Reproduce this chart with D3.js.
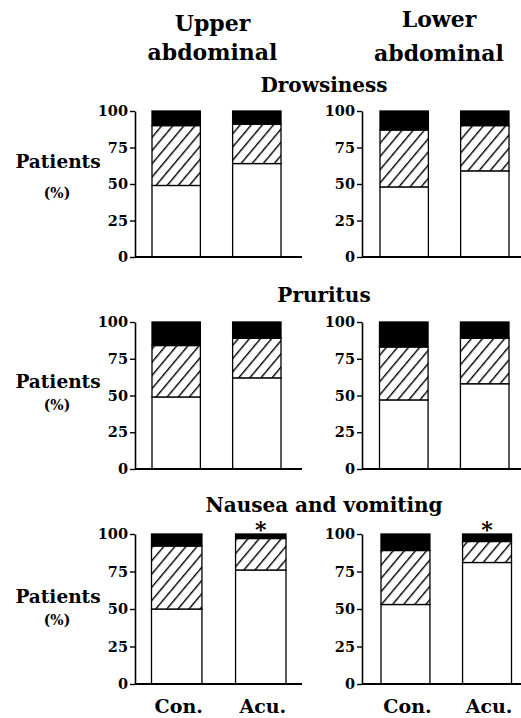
<!DOCTYPE html>
<html>
<head>
<meta charset="utf-8">
<script src="https://cdn.jsdelivr.net/npm/d3@7"></script>
<style>
  body { margin: 0; background: #fff; }
  svg text { font-family: "DejaVu Serif", serif; font-weight: bold; fill: #000; }
</style>
</head>
<body>
<svg></svg>
<script>
// data: percent of patients per severity, order = Drowsiness, Pruritus, Nausea and vomiting
var symptoms = ["Drowsiness", "Pruritus", "Nausea and vomiting"];
var sites = ["Upper abdominal", "Lower abdominal"];
var groups = ["Con.", "Acu."];
var tickVals = [0, 25, 50, 75, 100];

// [row][site][group]
var noneVals = [
  [[49, 64], [48, 59]],
  [[49, 62], [47, 58]],
  [[50, 76], [53, 81]]
];
var mildVals = [
  [[41, 27], [39, 31]],
  [[35, 27], [36, 31]],
  [[42, 21], [36, 14]]
];
var severeVals = [
  [[10, 9], [13, 10]],
  [[16, 11], [17, 11]],
  [[8, 3], [11, 5]]
];
var significant = [
  [[false, false], [false, false]],
  [[false, false], [false, false]],
  [[false, true], [false, true]]
];

var svgWidth = 521, svgHeight = 718;
var svg = d3.select("svg").attr("width", svgWidth).attr("height", svgHeight);

// hatch pattern
var defs = svg.append("defs");
var pat = defs.append("pattern")
  .attr("id", "hatch")
  .attr("patternUnits", "userSpaceOnUse")
  .attr("width", 8.5).attr("height", 8.5)
  .attr("patternTransform", "rotate(40)");
pat.append("rect").attr("width", 8.5).attr("height", 8.5).attr("fill", "#fff");
pat.append("line").attr("x1", 0.7).attr("y1", 0).attr("x2", 0.7).attr("y2", 8.5)
  .attr("stroke", "#000").attr("stroke-width", 1.4);

// layout per row
var rows = [
  {top: 111, bottom: 257, titleY: 92, patY: 168, pctY: 198},
  {top: 322, bottom: 469, titleY: 302, patY: 388, pctY: 410},
  {top: 534, bottom: 684, titleY: 512, patY: 603, pctY: 625}
];
var cols = [
  {axisX: 135, axisEnd: 302, bars: [[152, 281], [152, 281], [151.5, 286]]},
  {axisX: 362, axisEnd: 521, bars: [[380, 509], [379.5, 509], [381, 511.5]]}
];

// column headers
var headers = [
  {lines: ["Upper", "abdominal"], x: 212.5, y: [31, 60]},
  {lines: ["Lower", "abdominal"], x: 439, y: [27, 61]}
];
headers.forEach(function(h) {
  h.lines.forEach(function(t, i) {
    svg.append("text").attr("x", h.x).attr("y", h.y[i])
      .attr("text-anchor", "middle").style("font-size", "22px").text(t);
  });
});

rows.forEach(function(r, ri) {
  svg.append("text").attr("x", 58).attr("y", r.patY)
    .attr("text-anchor", "middle").style("font-size", "18.5px").text(symptoms[ri] ? "Patients" : "");
  svg.append("text").attr("x", 57).attr("y", r.pctY)
    .attr("text-anchor", "middle").style("font-size", "14px").text("(%)");

  svg.append("text").attr("x", 324).attr("y", r.titleY)
    .attr("text-anchor", "middle").style("font-size", "20px").text(symptoms[ri]);

  cols.forEach(function(c, ci) {
    var yScale = d3.scaleLinear().domain([0, 100]).range([r.bottom, r.top]);
    var xScale = d3.scaleBand().domain(groups).range(c.bars[ri]).paddingInner(0.4);

    var g = svg.append("g");

    // bars
    groups.forEach(function(grp, gi) {
      var n = noneVals[ri][ci][gi], m = mildVals[ri][ci][gi], s = severeVals[ri][ci][gi];
      var segs = [
        {v0: 0, v1: n, fill: "#fff"},
        {v0: n, v1: n + m, fill: "url(#hatch)"},
        {v0: n + m, v1: n + m + s, fill: "#000"}
      ];
      g.selectAll(null).data(segs).enter().append("rect")
        .attr("x", xScale(grp))
        .attr("width", xScale.bandwidth())
        .attr("y", function(d) { return yScale(d.v1); })
        .attr("height", function(d) { return yScale(d.v0) - yScale(d.v1); })
        .attr("fill", function(d) { return d.fill; })
        .attr("stroke", "#000")
        .attr("stroke-width", 1.3);

      if (significant[ri][ci][gi]) {
        g.append("text")
          .attr("x", xScale(grp) + xScale.bandwidth() / 2)
          .attr("y", yScale(100) + 3)
          .attr("text-anchor", "middle")
          .style("font-size", "22px")
          .text("*");
      }

      if (ri == 2) {
        g.append("text")
          .attr("x", xScale(grp) + xScale.bandwidth() / 2 + 2)
          .attr("y", 713)
          .attr("text-anchor", "middle")
          .style("font-size", "19px")
          .text(grp);
      }
    });

    // y axis
    var yAxis = d3.axisLeft(yScale).tickValues(tickVals).tickSize(5).tickSizeOuter(0).tickPadding(2);
    var ax = g.append("g").attr("transform", "translate(" + c.axisX + ",0)").call(yAxis);
    ax.select(".domain").attr("stroke-width", 1.6);
    ax.selectAll(".tick line").attr("stroke-width", 1.4);
    ax.selectAll(".tick text").style("font-size", "14.5px").style("font-family", "DejaVu Serif")
      .style("font-weight", "bold").attr("fill", "#000");

    // baseline
    g.append("line")
      .attr("x1", c.axisX).attr("x2", c.axisEnd)
      .attr("y1", yScale(0)).attr("y2", yScale(0))
      .attr("stroke", "#000").attr("stroke-width", 2);
  });
});
</script>
</body>
</html>
